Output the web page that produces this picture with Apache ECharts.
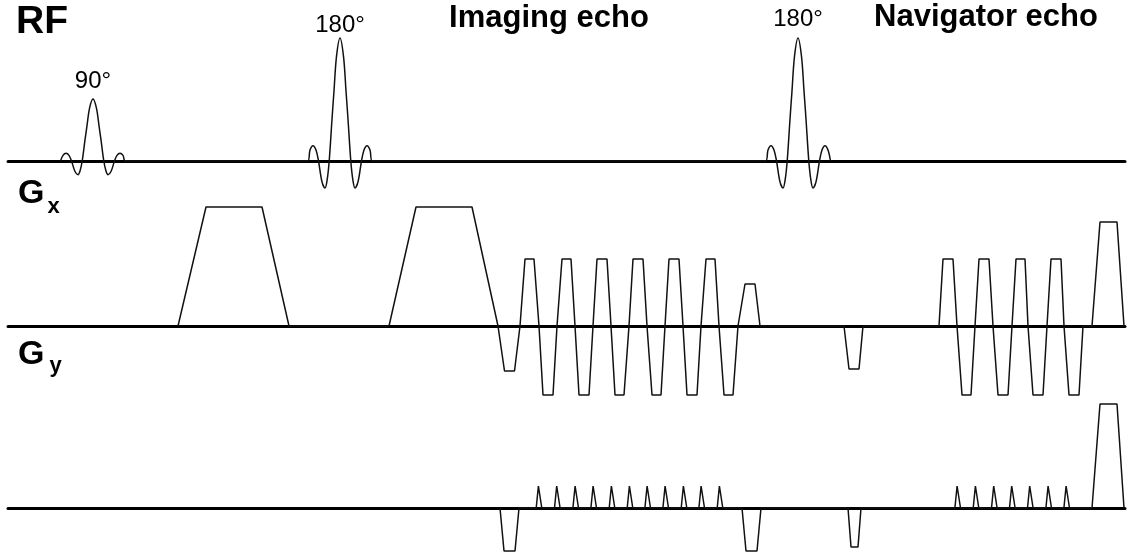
<!DOCTYPE html>
<html>
<head>
<meta charset="utf-8">
<script src="https://cdn.jsdelivr.net/npm/echarts@6/dist/echarts.min.js"></script>
<style>
  html, body { margin: 0; padding: 0; background: #fff; }
  #chart { width: 1130px; height: 557px; }
</style>
</head>
<body>
<div id="chart"></div>
<script>
// Time axis in arbitrary units, origin at the centre of the 90° excitation pulse.
const timeRange = [-85, 1032];

// RF pulses
const rfCenters = [0, 247, 705];
const rfPeaks = [62, 123, 123];
const rfLabels = ['90°', '180°', '180°'];
// Sinc-shaped pulse profile: [time offset, fraction of peak amplitude]
const rfPulseProfile = [
  [-32.5, 0], [-30, 0.09], [-27, 0.125], [-24, 0.09], [-21.5, 0],
  [-18, -0.17], [-15, -0.22], [-12.8, -0.15], [-10.8, 0],
  [-8, 0.34], [-6, 0.57], [-3.5, 0.85], [0, 1], [3.5, 0.85], [6, 0.57], [8, 0.34],
  [10.8, 0], [12.8, -0.15], [15, -0.22], [18, -0.17],
  [21.5, 0], [24, 0.09], [27, 0.125], [30, 0.09], [32.5, 0]
];

// Gradient lobes: [ramp-up start, plateau start, plateau end, ramp-down end, amplitude]
const gxLobes = [
  [85, 113, 169, 196, 119],
  [296, 323, 379, 405, 119],
  [405, 411.5, 421.5, 427, -45],
  [427, 432, 441, 446, 67],
  [446, 450, 460, 464, -69],
  [464, 469, 478, 482, 67],
  [482, 486, 496, 500, -69],
  [500, 504, 514, 518, 67],
  [518, 522, 531, 536, -69],
  [536, 540, 550, 554, 67],
  [554, 559, 568, 572, -69],
  [572, 576, 586, 590, 67],
  [590, 594, 604, 608, -69],
  [608, 613, 622, 626, 67],
  [626, 631, 640, 645, -69],
  [647, 652, 662, 667, 42],
  [751, 756, 766, 770, -43],
  [846, 850, 860, 864, 67],
  [864, 869, 878, 882, -69],
  [882, 886, 896, 900, 67],
  [900, 905, 915, 919, -69],
  [919, 923, 932, 935, 67],
  [935, 940, 950, 954, -69],
  [954, 958, 968, 971, 67],
  [971, 976, 986, 990, -69],
  [999, 1007, 1024, 1031, 104]
];

const gyLobes = [
  [407, 411, 422, 426, -43],
  [649, 653, 664, 668, -43],
  [755, 758, 765, 768, -39],
  [999, 1007, 1024, 1031, 104]
];
// Phase-encode blips: centre times, amplitude, half base / half plateau durations
const gyBlipTimes = [
  446, 464.3, 482.7, 500.7, 519, 537, 554.7, 572.7, 591, 608.7, 627,
  864.7, 883, 901.3, 919.3, 937.3, 955.7, 973.7
];
const gyBlipAmp = 22;
const gyBlipHalfBase = 2.8;
const gyBlipHalfTop = 0.6;

// ---- build waveforms ----
function lobesToWave(lobes) {
  const pts = [];
  lobes.slice().sort((a, b) => a[0] - b[0]).forEach(([s, fs, fe, e, a]) => {
    pts.push([s, 0], [fs, a], [fe, a], [e, 0]);
  });
  return pts;
}

const rfWave = [];
rfCenters.forEach((c, i) => {
  rfPulseProfile.forEach(([dt, f]) => rfWave.push([c + dt, rfPeaks[i] * f]));
});

const gxWave = lobesToWave(gxLobes);
const gyBlips = gyBlipTimes.map(c => [c - gyBlipHalfBase, c - gyBlipHalfTop, c + gyBlipHalfTop, c + gyBlipHalfBase, gyBlipAmp]);
const gyWave = lobesToWave(gyLobes.concat(gyBlips));

// ---- chart ----
const FONT = '"Liberation Sans", Arial, Helvetica, sans-serif';
const rfLabelGap = [6, 1, 7];

// one grid per channel; x axes share the same time range
const grids = [
  { left: 8, right: 5, top: 28, bottom: 356 },
  { left: 8, right: 5, top: 196, bottom: 151 },
  { left: 8, right: 5, top: 398, bottom: 1 }
];
const yRanges = [[-40, 133], [-80, 130], [-48, 110]];

const xAxes = grids.map((g, i) => ({
  type: 'value', gridIndex: i, min: timeRange[0], max: timeRange[1],
  axisLine: { show: true, onZero: true, lineStyle: { color: '#000', width: 3 } },
  axisTick: { show: false }, axisLabel: { show: false }, splitLine: { show: false }
}));
const yAxes = yRanges.map((r, i) => ({
  type: 'value', gridIndex: i, min: r[0], max: r[1], show: false,
  splitLine: { show: false }
}));

const waveStyle = { color: '#111', width: 1.5 };

const option = {
  backgroundColor: '#fff',
  animation: false,
  grid: grids,
  xAxis: xAxes,
  yAxis: yAxes,
  series: [
    { type: 'line', xAxisIndex: 0, yAxisIndex: 0, data: rfWave, smooth: 0.35,
      showSymbol: false, lineStyle: waveStyle, z: 3, silent: true },
    { type: 'scatter', xAxisIndex: 0, yAxisIndex: 0, symbolSize: 0, silent: true,
      data: rfCenters.map((c, i) => ({
        value: [c, rfPeaks[i]],
        label: { show: true, position: 'top', distance: rfLabelGap[i], formatter: rfLabels[i],
          color: '#000', opacity: 1, fontSize: 24, fontFamily: FONT }
      })) },
    { type: 'line', xAxisIndex: 1, yAxisIndex: 1, data: gxWave,
      showSymbol: false, lineStyle: waveStyle, z: 3, silent: true },
    { type: 'line', xAxisIndex: 2, yAxisIndex: 2, data: gyWave,
      showSymbol: false, lineStyle: waveStyle, z: 3, silent: true }
  ],
  graphic: [
    { type: 'text', x: 16, y: 22, style: { text: 'RF', font: 'bold 39px ' + FONT, fill: '#000', textVerticalAlign: 'middle' } },
    { type: 'text', x: 18, y: 194, style: { text: 'G', font: 'bold 34px ' + FONT, fill: '#000', textVerticalAlign: 'middle' } },
    { type: 'text', x: 47.5, y: 207, style: { text: 'x', font: 'bold 22px ' + FONT, fill: '#000', textVerticalAlign: 'middle' } },
    { type: 'text', x: 18, y: 355, style: { text: 'G', font: 'bold 34px ' + FONT, fill: '#000', textVerticalAlign: 'middle' } },
    { type: 'text', x: 49.5, y: 366, style: { text: 'y', font: 'bold 22px ' + FONT, fill: '#000', textVerticalAlign: 'middle' } },
    { type: 'text', x: 549, y: 18, style: { text: 'Imaging echo', font: 'bold 31px ' + FONT, fill: '#000', textAlign: 'center', textVerticalAlign: 'middle' } },
    { type: 'text', x: 986, y: 17, style: { text: 'Navigator echo', font: 'bold 31px ' + FONT, fill: '#000', textAlign: 'center', textVerticalAlign: 'middle' } }
  ]
};

const chart = echarts.init(document.getElementById('chart'), null, { renderer: 'canvas' });
chart.setOption(option);
</script>
</body>
</html>
